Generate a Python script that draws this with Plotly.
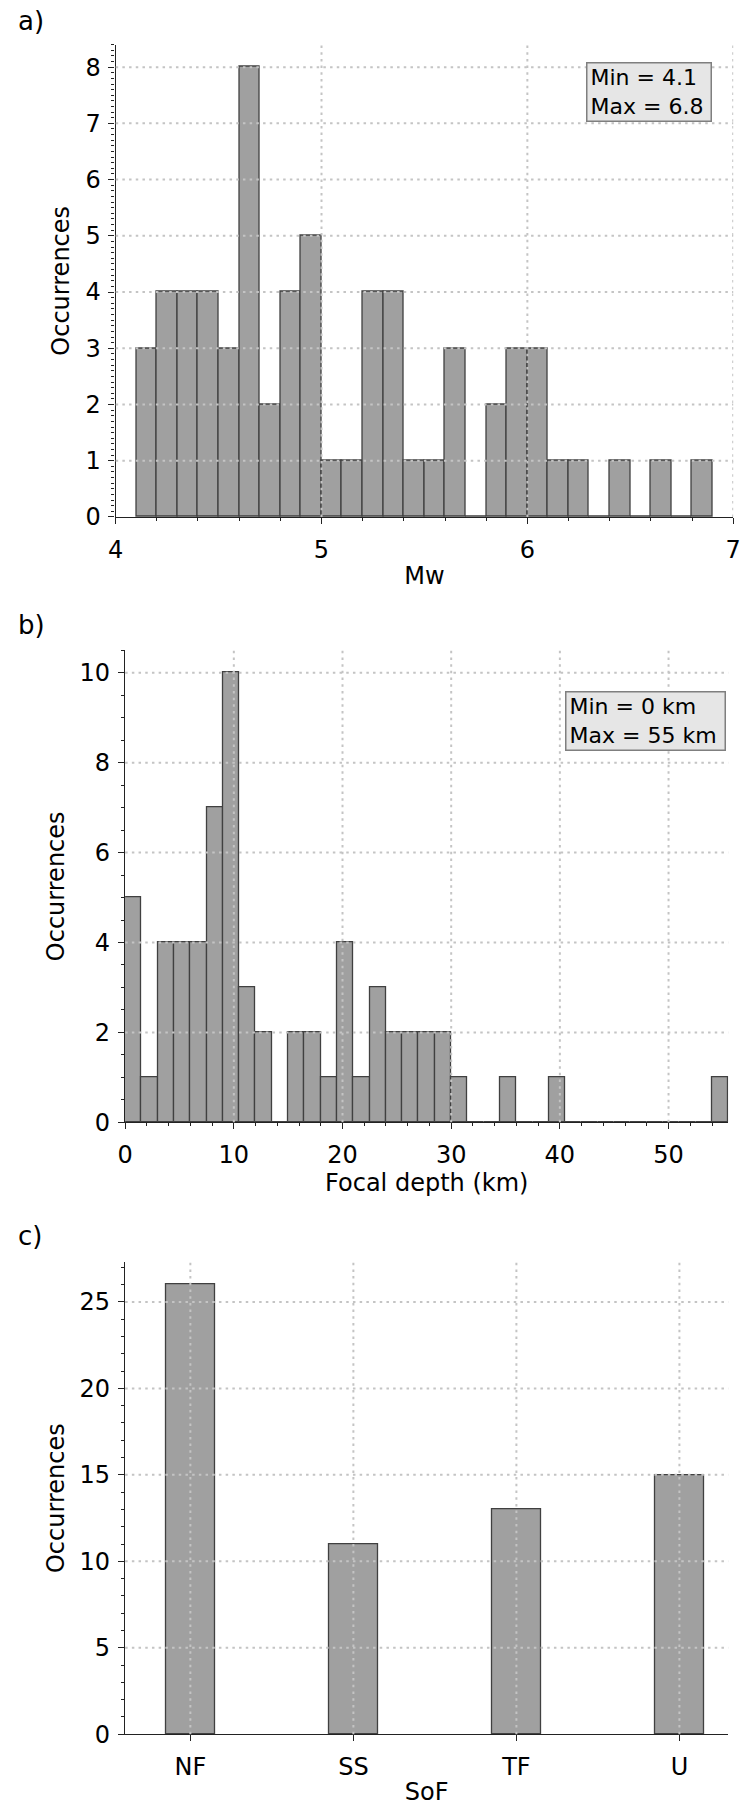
import plotly.graph_objects as go

# ---- data ----
# a) moment magnitude histogram (bins of 0.1 starting at 4.1)
mw_bin_start = 4.1
mw_bin_width = 0.1
mw_counts = [3, 4, 4, 4, 3, 8, 2, 4, 5, 1, 1, 4, 4, 1, 1, 3, 0, 2, 3, 3, 1, 1, 0, 1, 0, 1, 0, 1]
mw_text = "Min = 4.1<br>Max = 6.8"

# b) focal depth histogram (bins of 1.5 km starting at 0)
depth_bin_start = 0.0
depth_bin_width = 1.5
depth_counts = [5, 1, 4, 4, 4, 7, 10, 3, 2, 0, 2, 2, 1, 4, 1, 3, 2, 2, 2, 2, 1,
                0, 0, 1, 0, 0, 1, 0, 0, 0, 0, 0, 0, 0, 0, 0, 1]
depth_text = "Min = 0 km<br>Max = 55 km"

# c) style of faulting
sof_categories = ["NF", "SS", "TF", "U"]
sof_counts = [26, 11, 13, 15]

mw_edges = [round(mw_bin_start + i * mw_bin_width, 2) for i in range(len(mw_counts))]
depth_edges = [round(depth_bin_start + i * depth_bin_width, 2) for i in range(len(depth_counts))]

# ---- styling ----
FONT = "DejaVu Sans"
BAR_FILL = "#a0a0a0"
BAR_EDGE = "#404040"
AXIS_COL = "#222222"
GRID_COL = "#c4c4c4"
W, H = 751, 1813
TICK_SIZE = 24

fig = go.Figure()

fig.add_trace(go.Bar(x=mw_edges, y=mw_counts, width=mw_bin_width, offset=0,
                     marker=dict(color=BAR_FILL, line=dict(color=BAR_EDGE, width=1.3)),
                     xaxis="x", yaxis="y", showlegend=False))
fig.add_trace(go.Bar(x=depth_edges, y=depth_counts, width=depth_bin_width, offset=0,
                     marker=dict(color=BAR_FILL, line=dict(color=BAR_EDGE, width=1.3)),
                     xaxis="x2", yaxis="y2", showlegend=False))
fig.add_trace(go.Bar(x=sof_categories, y=sof_counts, width=0.3,
                     marker=dict(color=BAR_FILL, line=dict(color=BAR_EDGE, width=1.3)),
                     xaxis="x3", yaxis="y3", showlegend=False))


def px_x(p):
    return p / W


def px_y(p):
    return 1 - p / H


def axis_common(**kw):
    d = dict(showline=True, linecolor=AXIS_COL, linewidth=1.4, mirror=False,
             ticks="outside", ticklen=6, tickwidth=1.4, tickcolor=AXIS_COL,
             showgrid=False, zeroline=False,
             tickfont=dict(family=FONT, size=TICK_SIZE, color="black"),
             title_font=dict(family=FONT, size=TICK_SIZE, color="black"))
    d.update(kw)
    return d


minor_style = dict(ticks="outside", ticklen=3, tickwidth=1.2, tickcolor=AXIS_COL, showgrid=False)

fig.update_layout(
    width=W, height=H, margin=dict(l=0, r=0, t=0, b=0),
    paper_bgcolor="white", plot_bgcolor="white",
    font=dict(family=FONT, color="black"),
    bargap=0,
    # panel a
    xaxis=axis_common(domain=[px_x(110), px_x(741)], range=[4, 7], anchor="y",
                      tickvals=[4, 5, 6, 7], minor=dict(dtick=0.2, tick0=4, **minor_style),
                      ticklabelstandoff=5,
                      title=dict(text="Mw", standoff=4)),
    yaxis=axis_common(domain=[px_y(521), px_y(45)], range=[0, 8.4], anchor="x",
                      tickvals=list(range(0, 9)), minor=dict(dtick=0.1, tick0=0, **minor_style),
                      ticklabelstandoff=3,
                      title=dict(text="Occurrences", standoff=8)),
    # panel b
    xaxis2=axis_common(domain=[px_x(119.7), px_x(736)], range=[0, 55.5], anchor="y2",
                       tickvals=[0, 10, 20, 30, 40, 50], minor=dict(dtick=2, tick0=0, **minor_style),
                       ticklabelstandoff=5,
                       title=dict(text="Focal depth (km)", standoff=4)),
    yaxis2=axis_common(domain=[px_y(1131), px_y(655.4)], range=[0, 10.5], anchor="x2",
                       tickvals=[0, 2, 4, 6, 8, 10], minor=dict(dtick=0.5, tick0=0, **minor_style),
                       ticklabelstandoff=3,
                       title=dict(text="Occurrences", standoff=8)),
    # panel c
    xaxis3=axis_common(domain=[px_x(119.7), px_x(736)], range=[-0.4, 3.3], anchor="y3",
                       type="category", ticklabelstandoff=5,
                       title=dict(text="SoF", standoff=2)),
    yaxis3=axis_common(domain=[px_y(1747.7), px_y(1272)], range=[0, 27.3], anchor="x3",
                       tickvals=[0, 5, 10, 15, 20, 25], minor=dict(dtick=1, tick0=0, **minor_style),
                       ticklabelstandoff=3,
                       title=dict(text="Occurrences", standoff=8)),
)

# dotted grid drawn over the bars
GRID = dict(color=GRID_COL, width=2, dash="2.5px,4.2px")
shapes = []


def add_grid(xa, ya, xvals, yvals):
    for v in xvals:
        shapes.append(dict(type="line", xref=xa, yref=f"{ya} domain", x0=v, x1=v, y0=0, y1=1,
                           line=GRID, layer="above"))
    for v in yvals:
        shapes.append(dict(type="line", xref=f"{xa} domain", yref=ya, x0=0, x1=1, y0=v, y1=v,
                           line=GRID, layer="above"))


add_grid("x", "y", [5, 6, 7], list(range(1, 9)))
add_grid("x2", "y2", [10, 20, 30, 40, 50], [2, 4, 6, 8, 10])
add_grid("x3", "y3", sof_categories, [5, 10, 15, 20, 25])
fig.update_layout(shapes=shapes)

# panel letters and summary boxes
ann = []
for lbl, y in [("a)", 21), ("b)", 630), ("c)", 1246)]:
    ann.append(dict(text=lbl, xref="paper", yref="paper", x=px_x(8), y=px_y(y),
                    xanchor="left", yanchor="middle", showarrow=False,
                    font=dict(family=FONT, size=26, color="black")))

box_style = dict(xref="paper", yref="paper", showarrow=False, align="left",
                 xanchor="left", yanchor="top", bgcolor="#e6e6e6",
                 bordercolor="#7f7f7f", borderwidth=1.5, borderpad=3, height=51,
                 font=dict(family=FONT, size=22, color="black"))
ann.append(dict(text=mw_text, x=px_x(591), y=px_y(62.7), width=117, **box_style))
ann.append(dict(text=depth_text, x=px_x(569), y=px_y(696.7), width=152, **box_style))
fig.update_layout(annotations=ann)

fig.write_html("out.html")
